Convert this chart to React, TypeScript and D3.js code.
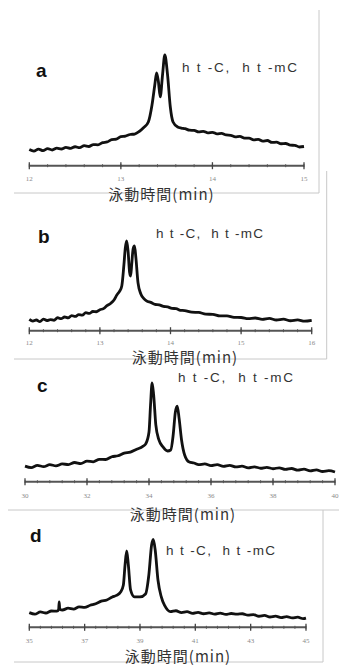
import * as d3 from "d3";
import React from "react";

const W = 339;
const H = 669;

// electropherogram a (min, signal a.u.)
const aTime = [12.0, 12.05, 12.1, 12.15, 12.2, 12.25, 12.3, 12.35, 12.4, 12.45, 12.5, 12.55, 12.6, 12.65, 12.7, 12.75, 12.8, 12.85, 12.9, 12.95, 13.0, 13.05, 13.1, 13.15, 13.2, 13.25, 13.3, 13.34, 13.37, 13.39, 13.41, 13.43, 13.455, 13.48, 13.51, 13.54, 13.57, 13.62, 13.66, 13.7, 13.75, 13.8, 13.85, 13.9, 13.95, 14.0, 14.05, 14.1, 14.15, 14.2, 14.25, 14.3, 14.35, 14.4, 14.45, 14.5, 14.55, 14.6, 14.65, 14.7, 14.75, 14.8, 14.85, 14.9, 14.95, 15.0];
const aSignal = [13.5, 12.2, 13.8, 12.6, 14.2, 13.1, 14.6, 13.9, 15.3, 14.4, 15.8, 15.0, 16.7, 16.0, 17.6, 17.4, 19.2, 19.8, 21.7, 22.1, 24.2, 24.6, 26.0, 26.4, 28.5, 31.8, 36.4, 50.6, 67.0, 77.3, 70.0, 57.3, 75.6, 92.3, 75.6, 48.9, 36.4, 32.3, 31.4, 30.9, 29.6, 29.4, 28.2, 28.6, 27.4, 27.8, 26.5, 26.9, 25.6, 25.3, 24.1, 24.4, 22.9, 23.0, 21.6, 22.0, 20.5, 21.0, 19.4, 19.6, 18.3, 18.5, 17.1, 17.0, 15.6, 16.0];

// electropherogram b
const bTime = [12.0, 12.05, 12.1, 12.15, 12.2, 12.25, 12.3, 12.35, 12.4, 12.45, 12.5, 12.55, 12.6, 12.65, 12.7, 12.75, 12.8, 12.85, 12.9, 12.95, 13.0, 13.05, 13.1, 13.15, 13.2, 13.24, 13.28, 13.31, 13.34, 13.36, 13.38, 13.4, 13.42, 13.435, 13.45, 13.47, 13.49, 13.51, 13.54, 13.58, 13.62, 13.66, 13.72, 13.78, 13.84, 13.9, 13.96, 14.02, 14.08, 14.14, 14.2, 14.3, 14.4, 14.5, 14.6, 14.7, 14.8, 14.9, 15.0, 15.1, 15.2, 15.3, 15.4, 15.5, 15.6, 15.7, 15.8, 15.9, 16.0];
const bSignal = [9.4, 8.0, 8.9, 7.6, 9.6, 8.5, 9.2, 8.7, 10.8, 10.0, 11.4, 10.7, 12.6, 11.9, 13.4, 13.0, 15.0, 14.4, 16.0, 15.8, 17.5, 18.4, 20.8, 22.7, 25.6, 29.8, 33.0, 37.3, 54.8, 69.0, 74.8, 65.6, 48.9, 45.6, 54.8, 68.1, 70.6, 60.6, 39.8, 30.6, 27.0, 24.8, 23.6, 22.0, 21.6, 20.2, 19.8, 18.6, 18.4, 17.0, 16.8, 15.5, 15.2, 13.8, 13.6, 12.3, 12.4, 11.1, 11.0, 10.0, 10.6, 9.4, 10.2, 8.9, 9.6, 8.3, 9.0, 7.9, 8.6];

// electropherogram c
const cTime = [30.0, 30.2, 30.4, 30.6, 30.8, 31.0, 31.2, 31.4, 31.6, 31.8, 32.0, 32.2, 32.4, 32.6, 32.8, 33.0, 33.2, 33.4, 33.6, 33.8, 33.9, 34.0, 34.05, 34.1, 34.15, 34.22, 34.32, 34.45, 34.6, 34.7, 34.78, 34.85, 34.91, 34.97, 35.05, 35.15, 35.3, 35.45, 35.6, 35.8, 36.0, 36.2, 36.4, 36.6, 36.8, 37.0, 37.2, 37.4, 37.6, 37.8, 38.0, 38.2, 38.4, 38.6, 38.8, 39.0, 39.2, 39.4, 39.6, 39.8, 40.0];
const cSignal = [13.0, 11.8, 13.6, 12.5, 14.2, 13.2, 14.8, 14.3, 16.0, 15.1, 17.1, 16.6, 18.6, 18.5, 20.8, 21.6, 23.8, 24.6, 27.0, 29.4, 31.8, 41.4, 64.0, 82.3, 72.3, 47.3, 34.8, 29.0, 25.6, 26.4, 38.9, 58.0, 63.0, 53.0, 34.8, 22.3, 16.4, 15.6, 14.2, 14.8, 13.4, 14.2, 12.8, 13.6, 12.3, 12.9, 11.6, 12.4, 11.2, 12.0, 10.8, 11.6, 10.2, 11.0, 9.6, 10.4, 9.0, 9.8, 8.5, 9.2, 8.1];

// electropherogram d
const dTime = [35.0, 35.2, 35.4, 35.6, 35.8, 36.0, 36.06, 36.08, 36.1, 36.2, 36.4, 36.6, 36.8, 37.0, 37.2, 37.4, 37.6, 37.8, 38.0, 38.15, 38.3, 38.4, 38.46, 38.52, 38.58, 38.66, 38.8, 39.0, 39.2, 39.32, 39.42, 39.48, 39.55, 39.65, 39.77, 39.9, 40.1, 40.3, 40.5, 40.7, 40.9, 41.1, 41.3, 41.5, 41.7, 41.9, 42.1, 42.3, 42.5, 42.7, 42.9, 43.1, 43.3, 43.5, 43.7, 43.9, 44.1, 44.3, 44.5, 44.7, 44.9, 45.0];
const dSignal = [12.2, 10.9, 12.8, 11.9, 13.6, 13.4, 14.8, 21.1, 15.0, 14.4, 15.9, 15.2, 17.0, 16.6, 18.4, 19.6, 21.8, 22.8, 25.3, 26.6, 29.4, 35.3, 51.9, 63.6, 51.9, 31.1, 25.3, 25.3, 27.8, 43.6, 68.6, 73.3, 64.4, 39.4, 25.3, 17.8, 13.0, 13.8, 12.3, 13.0, 11.6, 12.4, 11.3, 12.0, 11.0, 11.8, 10.7, 11.5, 10.9, 11.3, 10.1, 10.6, 9.2, 9.9, 8.6, 9.3, 8.1, 8.9, 7.8, 8.4, 7.2, 7.6];

// axis tick labels
const aTicks = [12, 13, 14, 15];
const bTicks = [12, 13, 14, 15, 16];
const cTicks = [30, 32, 34, 36, 38, 40];
const dTicks = [35, 37, 39, 41, 43, 45];

const panelLabels = ["a", "b", "c", "d"];
const noteText = "h t -C,  h t -mC";
const axisTitle = "泳動時間(min)";

const panels = [
  { label: panelLabels[0], time: aTime, signal: aSignal, ticks: aTicks, domain: [12, 15], minor: 0.2,
    x0: 29.3, x1: 304, axisY: 165.7, labelX: 36, labelY: 77, noteX: 182, noteY: 71.5, noteW: 115, titleX: 161.5, titleY: 200, tickY: 181 },
  { label: panelLabels[1], time: bTime, signal: bSignal, ticks: bTicks, domain: [12, 16], minor: 0.2,
    x0: 29.3, x1: 311.7, axisY: 330.7, labelX: 38, labelY: 243, noteX: 156, noteY: 237.5, noteW: 107, titleX: 185, titleY: 362.5, tickY: 344.5 },
  { label: panelLabels[2], time: cTime, signal: cSignal, ticks: cTicks, domain: [30, 40], minor: 0.4,
    x0: 25, x1: 335, axisY: 481.7, labelX: 37, labelY: 391.5, noteX: 178, noteY: 381.5, noteW: 115, titleX: 183, titleY: 520, tickY: 497.5 },
  { label: panelLabels[3], time: dTime, signal: dSignal, ticks: dTicks, domain: [35, 45], minor: 0.4,
    x0: 29.3, x1: 306, axisY: 627.3, labelX: 30, labelY: 541.5, noteX: 166, noteY: 555, noteW: 109, titleX: 178, titleY: 662, tickY: 642.5 },
];

// light frame edges of the pasted chart images
const frames = [
  [319, 10, 319, 193], [14, 193, 319, 193],
  [326.7, 171, 326.7, 359], [14, 359, 326.7, 359],
  [8, 510, 339, 510],
  [323, 510, 323, 662], [14, 662, 323, 662],
];

function Panel({ p }) {
  const x = d3.scaleLinear().domain(p.domain).range([p.x0, p.x1]);
  const y = d3.scaleLinear().domain([0, 100]).range([p.axisY, p.axisY - 120]);
  const line = d3
    .line()
    .x((d) => x(d[0]))
    .y((d) => y(d[1]))
    .curve(d3.curveMonotoneX);
  const pts = p.time.map((t, i) => [t, p.signal[i]]);
  const minorTicks = d3.range(p.domain[0], p.domain[1] + 1e-6, p.minor);

  return (
    <g>
      <path d={line(pts)} fill="none" stroke="#111" strokeWidth={2.8} strokeLinejoin="round" />
      <line x1={x(p.domain[0])} x2={x(p.domain[1])} y1={p.axisY} y2={p.axisY} stroke="#555" strokeWidth={2} />
      {minorTicks.map((t) => (
        <line key={"m" + t} x1={x(t)} x2={x(t)} y1={p.axisY - 1.5} y2={p.axisY + 1.5} stroke="#555" strokeWidth={1} />
      ))}
      {p.ticks.map((t) => (
        <g key={t}>
          <line x1={x(t)} x2={x(t)} y1={p.axisY - 3.5} y2={p.axisY + 3.5} stroke="#444" strokeWidth={1.3} />
          <text x={x(t)} y={p.tickY} textAnchor="middle" fontSize={7} fill="#8a8a8a" fontFamily="'Liberation Serif', serif">
            {t}
          </text>
        </g>
      ))}
      <text x={p.labelX} y={p.labelY} fontSize={19} fontWeight="bold" fill="#111" fontFamily="'Liberation Sans', Arial, sans-serif">
        {p.label}
      </text>
      <text x={p.noteX} y={p.noteY} fontSize={13.5} fill="#333" textLength={p.noteW} lengthAdjust="spacing"
        style={{ whiteSpace: "pre" }} fontFamily="'Liberation Sans', Arial, sans-serif">
        {noteText}
      </text>
      <text x={p.titleX} y={p.titleY} textAnchor="middle" fontSize={15} letterSpacing={1} fill="#333"
        fontFamily="'Noto Sans CJK JP', sans-serif">
        {axisTitle}
      </text>
    </g>
  );
}

export default function App() {
  return (
    <svg width={W} height={H} style={{ position: "absolute", left: 0, top: 0, background: "#fff" }}>
      <rect width={W} height={H} fill="#fff" />
      {frames.map((f, i) => (
        <line key={i} x1={f[0]} y1={f[1]} x2={f[2]} y2={f[3]} stroke="#c8c8c8" strokeWidth={1} />
      ))}
      {panels.map((p) => (
        <Panel key={p.label} p={p} />
      ))}
    </svg>
  );
}
